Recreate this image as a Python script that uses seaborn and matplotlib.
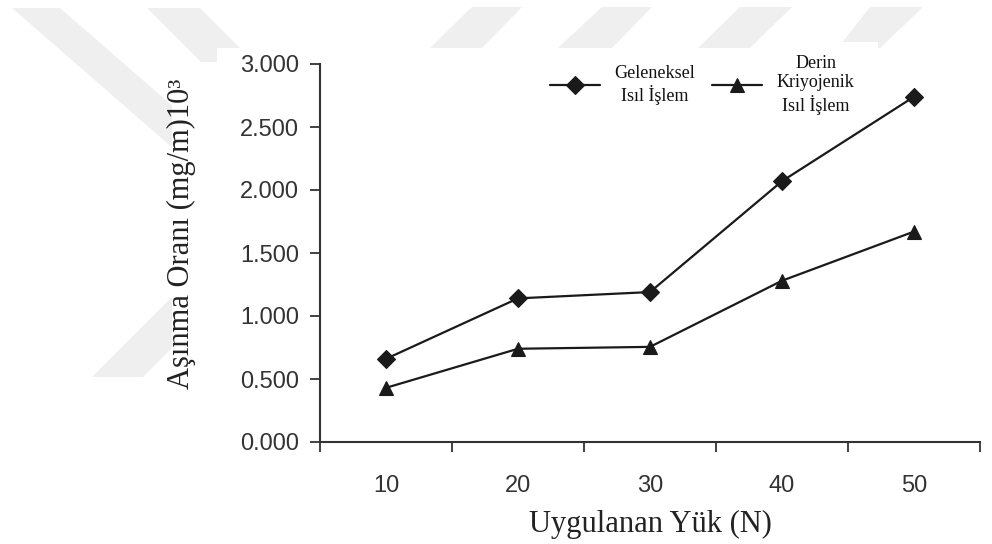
import numpy as np
import pandas as pd
import matplotlib
matplotlib.use("Agg")
import matplotlib.pyplot as plt
import seaborn as sns
from matplotlib.patches import Polygon, Rectangle
from matplotlib.transforms import IdentityTransform
from matplotlib.ticker import FixedLocator, NullFormatter, FixedFormatter

# ---- data ----
yuk = [10, 20, 30, 40, 50]
geleneksel = [0.66, 1.14, 1.19, 2.07, 2.74]
kriyojenik = [0.43, 0.74, 0.755, 1.28, 1.67]
label_geleneksel = "Geleneksel\nIsıl İşlem"
label_kriyojenik = "Derin\nKriyojenik\nIsıl İşlem"
y_ticks = [0.0, 0.5, 1.0, 1.5, 2.0, 2.5, 3.0]
y_ticklabels = ["0.000", "0.500", "1.000", "1.500", "2.000", "2.500", "3.000"]
x_label = "Uygulanan Yük (N)"
y_label = "Aşınma Oranı (mg/m)10³"

sns.set_theme(style="ticks")
plt.rcParams["font.family"] = ["Liberation Sans", "DejaVu Sans"]

W, H = 992, 544
fig = plt.figure(figsize=(W / 100, H / 100), dpi=100)
fig.patch.set_facecolor("white")

# ---- faint background watermark ----
def px(pts):
    return [(x, H - y) for x, y in pts]

wm = "#efefef"
shapes = [
    [(12, 8), (60, 8), (315, 230), (267, 230)],
    [(147, 8), (200, 8), (260, 68), (207, 68)],
    [(92, 377), (143, 377), (225, 295), (174, 295)],
    [(472, 7), (522, 7), (482, 48), (430, 48)],
    [(602, 7), (652, 7), (612, 48), (558, 48)],
    [(740, 7), (792, 7), (750, 48), (698, 48)],
    [(870, 7), (923, 7), (880, 48), (838, 48)],
]
for s in shapes:
    fig.add_artist(Polygon(px(s), closed=True, facecolor=wm, edgecolor="none",
                           transform=IdentityTransform(), zorder=-3))
for (x0, y0, x1, y1) in [(217, 48, 988, 462), (172, 62, 217, 408), (760, 42, 878, 62)]:
    fig.add_artist(Rectangle((x0, H - y1), x1 - x0, y1 - y0, facecolor="white",
                             edgecolor="none", transform=IdentityTransform(), zorder=-2))

# ---- axes ----
ax = fig.add_axes([320 / W, (H - 442) / H, 660 / W, 378 / H])
ax.set_facecolor("white")
ax.set_zorder(1)

line_col = "#1a1a1a"
sns.lineplot(x=yuk, y=geleneksel, ax=ax, color=line_col, marker="D", markersize=9,
             markeredgecolor=line_col, markeredgewidth=0.8, linewidth=1.6,
             label=label_geleneksel)
sns.lineplot(x=yuk, y=kriyojenik, ax=ax, color=line_col, marker="^", markersize=10,
             markeredgecolor=line_col, markeredgewidth=0.8, linewidth=1.6,
             label=label_kriyojenik)

ax.set_xlim(5, 55)
ax.set_ylim(0, 3.0)

# x axis: ticks at category boundaries, labels at centres
ax.xaxis.set_major_locator(FixedLocator([5, 15, 25, 35, 45, 55]))
ax.xaxis.set_major_formatter(NullFormatter())
ax.xaxis.set_minor_locator(FixedLocator(yuk))
ax.xaxis.set_minor_formatter(FixedFormatter([str(v) for v in yuk]))
ax.tick_params(axis="x", which="major", direction="out", length=7, width=1.3, color="#333333")
ax.tick_params(axis="x", which="minor", length=0, pad=24, labelsize=17, labelcolor="#333333")

ax.set_yticks(y_ticks)
ax.set_yticklabels(y_ticklabels)
ax.tick_params(axis="y", direction="out", length=7, width=1.3, color="#333333",
               pad=8, labelsize=17, labelcolor="#333333")

for sp in ["top", "right"]:
    ax.spines[sp].set_visible(False)
for sp in ["left", "bottom"]:
    ax.spines[sp].set_color("#333333")
    ax.spines[sp].set_linewidth(1.5)

ax.set_xlabel(x_label, fontsize=22, family=["Liberation Serif", "DejaVu Serif"],
              color="#222222", labelpad=9)
ax.set_ylabel(y_label, fontsize=22, family=["Liberation Serif", "DejaVu Serif"],
              color="#222222")
ax.yaxis.set_label_coords(-0.188, 0.55)

leg = ax.legend(loc="center left", bbox_to_anchor=(0.348, 0.945), ncol=2,
                frameon=False, borderpad=0, borderaxespad=0,
                handlelength=2.8, handletextpad=0.8, columnspacing=0.9,
                prop={"family": ["Liberation Serif", "DejaVu Serif"], "size": 13})
for t in leg.get_texts():
    t.set_multialignment("center")
    t.set_color("#111111")

fig.savefig("out.png", dpi=100, facecolor="white")
